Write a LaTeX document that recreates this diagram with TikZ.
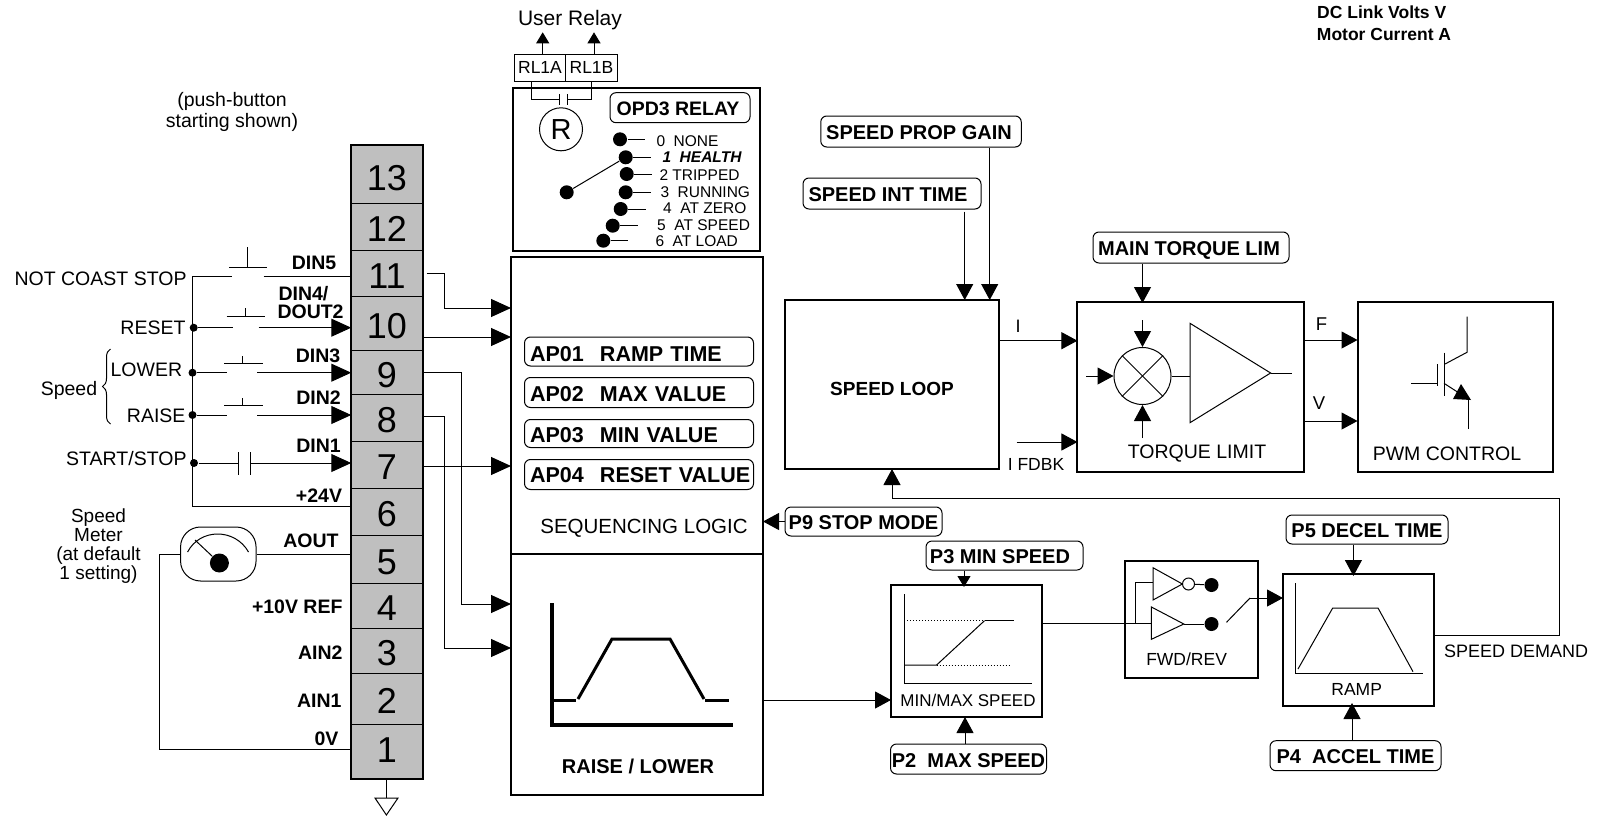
\documentclass[tikz,border=0pt]{standalone}
\usepackage{fontspec}
\setmainfont{Liberation Sans}
\usetikzlibrary{arrows.meta,positioning,decorations.pathreplacing}
\definecolor{termgray}{gray}{0.75}
\newcommand{\px}[1]{\fontsize{#1}{#1}\selectfont}

\begin{document}
\begin{tikzpicture}[x=1pt,y=-1pt,line width=1pt,node distance=41pt,
                    >={Triangle[length=20pt,width=18pt]}]

  \tikzstyle{terminal}=[rectangle,draw,fill=termgray,minimum width=71.5pt,inner sep=0pt,outer sep=0pt,text height=30pt,text depth=0pt,font=\px{36}]
  \tikzstyle{block}=[rectangle,draw,line width=2pt,inner sep=0pt,outer sep=0pt]
  \tikzstyle{param}=[rectangle,draw,rounded corners=6pt,inner sep=0pt,text height=16.5pt,text depth=0pt,font=\px{20}\bfseries]
  \tikzstyle{apbox}=[rectangle,draw,rounded corners=6pt,text width=218pt,align=left,inner xsep=5.5pt,inner ysep=0pt,text height=17pt,text depth=0pt,font=\px{21.5}\bfseries]
  \tikzstyle{relaybox}=[rectangle,draw,minimum height=27pt,inner sep=0pt,outer sep=0pt,font=\px{17.5}]
  \tikzstyle{tag}=[inner sep=0pt,font=\px{19.5}]
  \tikzstyle{pin}=[inner sep=0pt,text height=16pt,text depth=0pt,font=\px{19.5}\bfseries]
  \tikzstyle{opt}=[inner sep=0pt,anchor=west,font=\px{15.5}]
  \tikzstyle{dot}=[circle,fill=black,inner sep=0pt,minimum size=8pt]
  \tikzstyle{bigdot}=[circle,fill=black,inner sep=0pt,minimum size=14pt]
  \tikzstyle{wire}=[->]
  \tikzstyle{midhead}=[-{Triangle[length=16pt,width=17pt]}]
  \tikzstyle{minihead}=[-{Triangle[length=11pt,width=13pt]}]

  \useasboundingbox (0,0) rectangle (1597,816);

  % terminal strip
  \node[terminal,minimum height=58pt,text height=32pt] (t13) at (387,174) {13};
  \node[terminal,minimum height=47pt] (t12) [below=0pt of t13] {12};
  \node[terminal,minimum height=46pt] (t11) [below=0pt of t12] {11};
  \node[terminal,minimum height=54pt] (t10) [below=0pt of t11] {10};
  \node[terminal,minimum height=44pt] (t9)  [below=0pt of t10] {9};
  \node[terminal,minimum height=47pt] (t8)  [below=0pt of t9]  {8};
  \node[terminal,minimum height=47pt] (t7)  [below=0pt of t8]  {7};
  \node[terminal,minimum height=47pt] (t6)  [below=0pt of t7]  {6};
  \node[terminal,minimum height=48pt] (t5)  [below=0pt of t6]  {5};
  \node[terminal,minimum height=45pt] (t4)  [below=0pt of t5]  {4};
  \node[terminal,minimum height=45pt] (t3)  [below=0pt of t4]  {3};
  \node[terminal,minimum height=51pt] (t2)  [below=0pt of t3]  {2};
  \node[terminal,minimum height=55pt,text height=25pt,text depth=4pt] (t1)  [below=0pt of t2]  {1};
  \draw[line width=2.2pt] (t13.north west) rectangle (t1.south east);

  \node[pin] (din5) at (314,261) {DIN5};
  \node[pin,anchor=west] (din4) at (278,292) {DIN4/};
  \node[pin,anchor=west] (dout2) at (277,310) {DOUT2};
  \node[pin] (din3) at (318,354) {DIN3};
  \node[pin] (din2) at (318.5,396) {DIN2};
  \node[pin] (din1) at (318.5,444) {DIN1};
  \node[pin] (plus24) at (319,494) {+24V};
  \node[pin] (aout) at (311,539) {AOUT};
  \node[pin,anchor=east] (plus10) at (343,605) {+10V REF};
  \node[pin,anchor=east] (ain2) at (343,651) {AIN2};
  \node[pin,anchor=east] (ain1) at (342,699) {AIN1};
  \node[pin,anchor=east] (zerov) at (339,737) {0V};

  % digital inputs on the left
  \node[inner sep=0pt,align=center,font=\fontsize{19.5}{21}\selectfont] (pushnote) at (232,111.5) {(push-button\\starting shown)};
  \node[tag,anchor=east] (coast) at (187,279) {NOT COAST STOP};
  \node[tag,anchor=east] (reset) at (186,328) {RESET};
  \node[tag,anchor=east] (lower) at (182.6,370) {LOWER};
  \node[tag,anchor=east] (raisein) at (186,416) {RAISE};
  \node[tag,anchor=east] (startstop) at (187,459) {START/STOP};
  \node[tag] (speed) at (69,390) {Speed};
  \draw[decorate,decoration={brace,amplitude=8pt}] (110.5,424) -- (110.5,349);

  \node[dot] (dreset) at (193.7,327.7) {};
  \node[dot] (dlower) at (192.5,372.7) {};
  \node[dot] (draise) at (192.5,415) {};
  \node[dot] (dstart) at (194,463) {};
  \coordinate (buscoast) at (192.7,276);
  \coordinate (bus24) at (192.7,506);

  \draw (buscoast) -- (bus24) -- (bus24 -| t6.west);
  \draw (buscoast) -- (232,276);
  \draw (263.7,276) -- (263.7,276 -| t11.west);
  \draw (229,267) -- (267,267);
  \draw (247.5,247) -- (247.5,267);

  \draw (dreset) -- (232.6,327.7);
  \draw[wire] (258.6,327.7) -- (258.6,327.7 -| t10.west);
  \draw (226.5,316) -- (265,316);
  \draw (245,308) -- (245,316);

  \draw (dlower) -- (226.5,372.7);
  \draw[wire] (257,372.7) -- (257,372.7 -| t9.west);
  \draw (224,363.5) -- (262.7,363.5);
  \draw (242.7,356) -- (242.7,363.5);

  \draw (draise) -- (226.5,415);
  \draw[wire] (257,415) -- (257,415 -| t8.west);
  \draw (224,405.7) -- (262.7,405.7);
  \draw (242.7,398) -- (242.7,405.7);

  \draw (dstart) -- (238,463);
  \draw[wire] (250,463) -- (250,463 -| t7.west);
  \draw (238,452) -- (238,475);
  \draw (250,452) -- (250,475);

  % speed meter
  \node[inner sep=0pt,align=center,font=\px{19}] (meterlabel) at (98.5,546) {Speed\\Meter\\(at default\\1 setting)};
  \node[draw,rectangle,rounded corners=20pt,minimum width=75.5pt,minimum height=54pt,inner sep=0pt] (meter) at (218.3,554) {};
  \node[circle,fill=black,inner sep=0pt,minimum size=19pt] (meterdot) at (219.4,563) {};
  \coordinate (needle) at (195,540);
  \draw (needle) -- (meterdot);
  \draw (187.6,552) .. controls (200,528) and (235,528) .. (248.5,552);
  \coordinate (meterback) at (159.6,749);
  \draw (meter.east) -- (meter.east -| t5.west);
  \draw (meter.west) -- (meterback |- meter.west) -- (meterback) -- (meterback -| t1.west);

  % ground
  \coordinate (gnd) at (386.4,798);
  \draw (t1.south -| gnd) -- (gnd);
  \draw (375,798) -- (398,798) -- (386.4,815) -- cycle;

  % relay
  \node[tag,font=\px{21}] (userrelay) at (570,20.5) {User Relay};
  \node[relaybox,minimum width=51.4pt] (rl1a) at (540,67.7) {RL1A};
  \node[relaybox,minimum width=51.6pt] (rl1b) [right=0pt of rl1a] {RL1B};
  \coordinate (relayouta) at (542.7,32.3);
  \coordinate (relayoutb) at (594,32.3);
  \draw[minihead] (relayouta |- rl1a.north) -- (relayouta);
  \draw[minihead] (relayoutb |- rl1b.north) -- (relayoutb);

  \node[block,minimum width=246.7pt,minimum height=163.3pt] (opd3) at (636.7,169.4) {};
  \draw (531,81) -- (531,99) -- (559.3,99);
  \draw (559.3,94) -- (559.3,105);
  \draw (567.3,94) -- (567.3,105);
  \draw (567.3,99) -- (591,99) -- (591,81);
  \node[draw,circle,minimum size=43pt,inner sep=0pt,font=\px{29}] (coil) at (561,129.3) {R};
  \node[param,minimum width=140pt,minimum height=30pt,font=\px{19.5}\bfseries] (opd3name) at (680,107.7) {OPD3 RELAY\hspace*{4pt}};

  \node[bigdot] (common) at (566.7,192.3) {};
  \node[bigdot] (opt0) at (620,139.3) {};
  \node[bigdot] (opt1) at (625.7,157.3) {};
  \node[bigdot] (opt2) at (626.7,174) {};
  \node[bigdot] (opt3) at (625.7,192.3) {};
  \node[bigdot] (opt4) at (620.7,209) {};
  \node[bigdot] (opt5) at (612.7,225.7) {};
  \node[bigdot] (opt6) at (603.3,240.7) {};
  \draw (common) -- (opt1);
  \draw (opt0) -- ++(25,0);
  \draw (opt1) -- ++(25,0);
  \draw (opt2) -- ++(25,0);
  \draw (opt3) -- ++(25,0);
  \draw (opt4) -- ++(25,0);
  \draw (opt5) -- ++(25,0);
  \draw (opt6) -- ++(25,0);
  \node[opt] (opttext0) at (656,141) {0\ \ NONE};
  \node[opt,font=\px{15.5}\bfseries\itshape] (opttext1) at (662,157) {1\ \ HEALTH};
  \node[opt] (opttext2) at (659,175) {2 TRIPPED};
  \node[opt] (opttext3) at (660,192) {3\ \ RUNNING};
  \node[opt] (opttext4) at (662.7,208) {4\ \ AT ZERO};
  \node[opt] (opttext5) at (656.7,224.7) {5\ \ AT SPEED};
  \node[opt] (opttext6) at (655,241) {6\ \ AT LOAD};

  % sequencing logic and raise / lower
  \node[block,minimum width=252pt,minimum height=297pt] (seq) at (637,405.5) {};
  \node[block,minimum width=252pt,minimum height=241pt] (raise) [below=0pt of seq] {};

  \node[apbox,minimum height=29pt,text height=19pt] (ap01) at (639,351.5) {\makebox[70pt][l]{AP01}RAMP TIME};
  \node[apbox,minimum height=30pt] (ap02) [below of=ap01] {\makebox[70pt][l]{AP02}MAX VALUE};
  \node[apbox,minimum height=28pt] (ap03) [below of=ap02] {\makebox[70pt][l]{AP03}MIN VALUE};
  \node[apbox,minimum height=30pt,text height=15.5pt] (ap04) [below of=ap03] {\makebox[70pt][l]{AP04}\mbox{RESET VALUE}};
  \node[tag,font=\px{20.5}] (seqname) at (644,528) {SEQUENCING LOGIC};
  \node[tag,font=\px{20}\bfseries] (raisename) at (638,766.7) {RAISE / LOWER};

  \draw[line width=4pt] (552,603) -- (552,725) -- (733,725);
  \draw[line width=3pt] (553,700) -- (576,700);
  \draw[line width=3pt] (578,699) -- (612,639) -- (670,639) -- (704,699);
  \draw[line width=3pt] (705,700) -- (729,700);

  \coordinate (out11) at (444,308);
  \coordinate (out9) at (461.5,604);
  \coordinate (out8) at (444.5,648);
  \draw[wire] (426.6,273) -- (out11 |- 0,273) -- (out11) -- (out11 -| seq.west);
  \draw[wire] (t10.east |- 0,337) -- (seq.west |- 0,337);
  \draw[wire] (t9.east |- 0,372) -- (out9 |- 0,372) -- (out9) -- (out9 -| raise.west);
  \draw[wire] (t8.east |- 0,416) -- (out8 |- 0,416) -- (out8) -- (out8 -| raise.west);
  \draw[wire] (t7.east |- 0,466) -- (seq.west |- 0,466);

  % speed loop and torque limit
  \node[block,minimum width=214pt,minimum height=169pt,text height=21pt,text depth=0pt,font=\px{19}\bfseries] (speedloop) at (892,384.5) {SPEED LOOP};
  \node[param,minimum width=200.5pt,minimum height=31pt] (propgain) at (921,131.5) {SPEED PROP GAIN\hspace*{4pt}};
  \node[param,minimum width=178pt,minimum height=31pt] (inttime) at (892,193.5) {SPEED INT TIME\hspace*{8pt}};
  \coordinate (intin) at (964.7,300);
  \coordinate (intstart) at (964.7,211.7);
  \coordinate (propin) at (989.7,300);
  \draw[midhead] (intstart) -- (intin);
  \draw[midhead] (propin |- propgain.south) -- (propin);

  \node[block,minimum width=226.5pt,minimum height=170pt] (torque) at (1190.7,386.7) {};
  \node[block,minimum width=195pt,minimum height=170pt] (pwm) [right of=torque,node distance=264.3pt] {};
  \node[param,minimum width=196pt,minimum height=31pt] (mainlim) at (1191,247.5) {MAIN TORQUE LIM\hspace*{4pt}};
  \coordinate (limin) at (1142.5,303);
  \draw[midhead] (limin |- mainlim.south) -- (limin);

  \node[tag,font=\px{18}] (ilabel) at (1018,326) {I};
  \node[tag,font=\px{17.5}] (ifdbk) at (1036,464) {I FDBK};
  \coordinate (iin) at (998,340.7);
  \coordinate (fdbkin) at (1016.7,442);
  \draw[midhead] (iin) -- (iin -| torque.west);
  \draw[midhead] (fdbkin) -- (fdbkin -| torque.west);

  \node[draw,circle,minimum size=57pt,inner sep=0pt] (sum) at (1142.5,376) {};
  \draw (sum.north west) -- (sum.south east);
  \draw (sum.north east) -- (sum.south west);
  \draw[midhead] (1142.5,320) -- (sum.north);
  \draw[midhead] (1086,376) -- (sum.west);
  \draw[midhead] (1142.5,438) -- (sum.south);
  \draw (1190,323.3) -- (1190,422.7) -- (1270.6,373) -- cycle;
  \draw (sum.east) -- (sum.east -| 1190,0);
  \draw (1270.6,373) -- (1292,373);
  \node[tag] (torquename) at (1197,453.5) {TORQUE LIMIT};

  \node[tag,font=\px{18.5}] (flabel) at (1321.6,324) {F};
  \node[tag,font=\px{18.5}] (vlabel) at (1319,402.7) {V};
  \coordinate (fout) at (1304,340);
  \coordinate (vout) at (1304,421);
  \draw[midhead] (fout) -- (fout -| pwm.west);
  \draw[midhead] (vout) -- (vout -| pwm.west);

  \draw (1467,316.7) -- (1467,352.3) -- (1445,364);
  \draw (1444,352.7) -- (1444,395.7);
  \draw (1437.4,364) -- (1437.4,385.7);
  \draw (1411,383.7) -- (1437.4,383.7);
  \draw (1444,383.3) -- (1459,393);
  \fill (1453,399) -- (1471,400) -- (1461,384) -- cycle;
  \draw (1468.6,429) -- (1468.6,400);
  \node[tag] (pwmname) at (1447,453.7) {PWM CONTROL};

  % speed demand path
  \node[block,minimum width=151pt,minimum height=132pt] (minmax) at (966.5,651) {};
  \node[block,minimum width=133pt,minimum height=116.7pt] (fwdrev) at (1191,619.4) {};
  \node[block,minimum width=151pt,minimum height=132pt] (ramp) at (1358.5,640) {};
  \node[param,minimum width=157pt,minimum height=29pt] (stopmode) at (863.5,521.5) {P9 STOP MODE};
  \node[param,minimum width=157pt,minimum height=29pt] (minspeed) at (1004.5,555.5) {P3 MIN SPEED\hspace*{9pt}};
  \node[param,minimum width=156pt,minimum height=30pt] (maxspeed) at (968.5,759) {P2\ \ MAX SPEED};
  \node[param,minimum width=162pt,minimum height=29pt] (deceltime) at (1367,529.5) {P5 DECEL TIME};
  \node[param,minimum width=171pt,minimum height=30pt] (acceltime) at (1355.5,755.7) {P4\ \ ACCEL TIME};

  \coordinate (minin) at (964,587);
  \coordinate (maxin) at (965,717);
  \coordinate (decelin) at (1353.4,576);
  \coordinate (accelin) at (1352,703);
  \draw[minihead] (minin |- minspeed.south) -- (minin);
  \draw[midhead] (maxin |- maxspeed.north) -- (maxin);
  \draw[midhead] (decelin |- deceltime.south) -- (decelin);
  \draw[midhead] (accelin |- acceltime.north) -- (accelin);
  \draw[midhead] (stopmode.west) -- (stopmode.west -| seq.east);

  \node[tag,font=\px{17}] (minmaxname) at (968,700) {MIN/MAX SPEED};
  \draw[midhead] (raise.east |- minmaxname) -- (minmaxname -| minmax.west);
  \draw (904,594) -- (904,683) -- (1031.5,683);
  \draw[dotted] (904,620.7) -- (984.5,620.7);
  \draw (984.5,620.7) -- (1014,620.7);
  \draw (904,665) -- (936.6,665) -- (984.5,620.7);
  \draw[dotted] (936.6,665) -- (1011,665);

  % forward / reverse
  \coordinate (fwdin) at (1151.4,623.3);
  \coordinate (revin) at (1153,582.3);
  \coordinate (tap) at (1135.4,623.3);
  \draw (minmax.east |- fwdin) -- (fwdin);
  \draw (tap) -- (tap |- revin) -- (revin);
  \draw (1153,567.7) -- (1153,600) -- (1182.4,584) -- cycle;
  \draw (1151.4,607) -- (1151.4,639.3) -- (1183.8,624) -- cycle;
  \node[draw,circle,minimum size=12pt,inner sep=0pt] (notc) at (1188.5,584) {};
  \node[bigdot] (revdot) at (1211.5,585) {};
  \node[bigdot] (fwddot) at (1211.5,624) {};
  \draw (notc) -- (revdot);
  \draw (1183.8,624) -- (fwddot);
  \coordinate (switchtip) at (1250,598);
  \draw (1226.5,622.3) -- (switchtip);
  \draw[midhead] (switchtip) -- (switchtip -| ramp.west);
  \node[tag,font=\px{17.5}] (fwdname) at (1186.6,659.5) {FWD/REV};

  % ramp
  \draw (1295.6,583) -- (1295.6,673) -- (1422.5,673);
  \draw (1298,669) -- (1332.7,608) -- (1378,608) -- (1413,671.7);
  \node[tag,font=\px{17.5}] (rampname) at (1356.7,689) {RAMP};
  \node[tag,font=\px{18}] (demandname) at (1516,651) {SPEED DEMAND};
  \coordinate (demand) at (1559,635);
  \coordinate (demandtop) at (1559,498);
  \draw[midhead] (demand -| ramp.east) -- (demand) -- (demandtop) -- (demandtop -| speedloop.south) -- (speedloop.south);

  % readouts at the top
  \node[inner sep=0pt,font=\px{17.5}\bfseries] (dclink) at (1381.7,12) {DC Link Volts V};
  \node[inner sep=0pt,font=\px{17.5}\bfseries] (motorcur) at (1384,34.7) {Motor Current A};
\end{tikzpicture}
\end{document}
